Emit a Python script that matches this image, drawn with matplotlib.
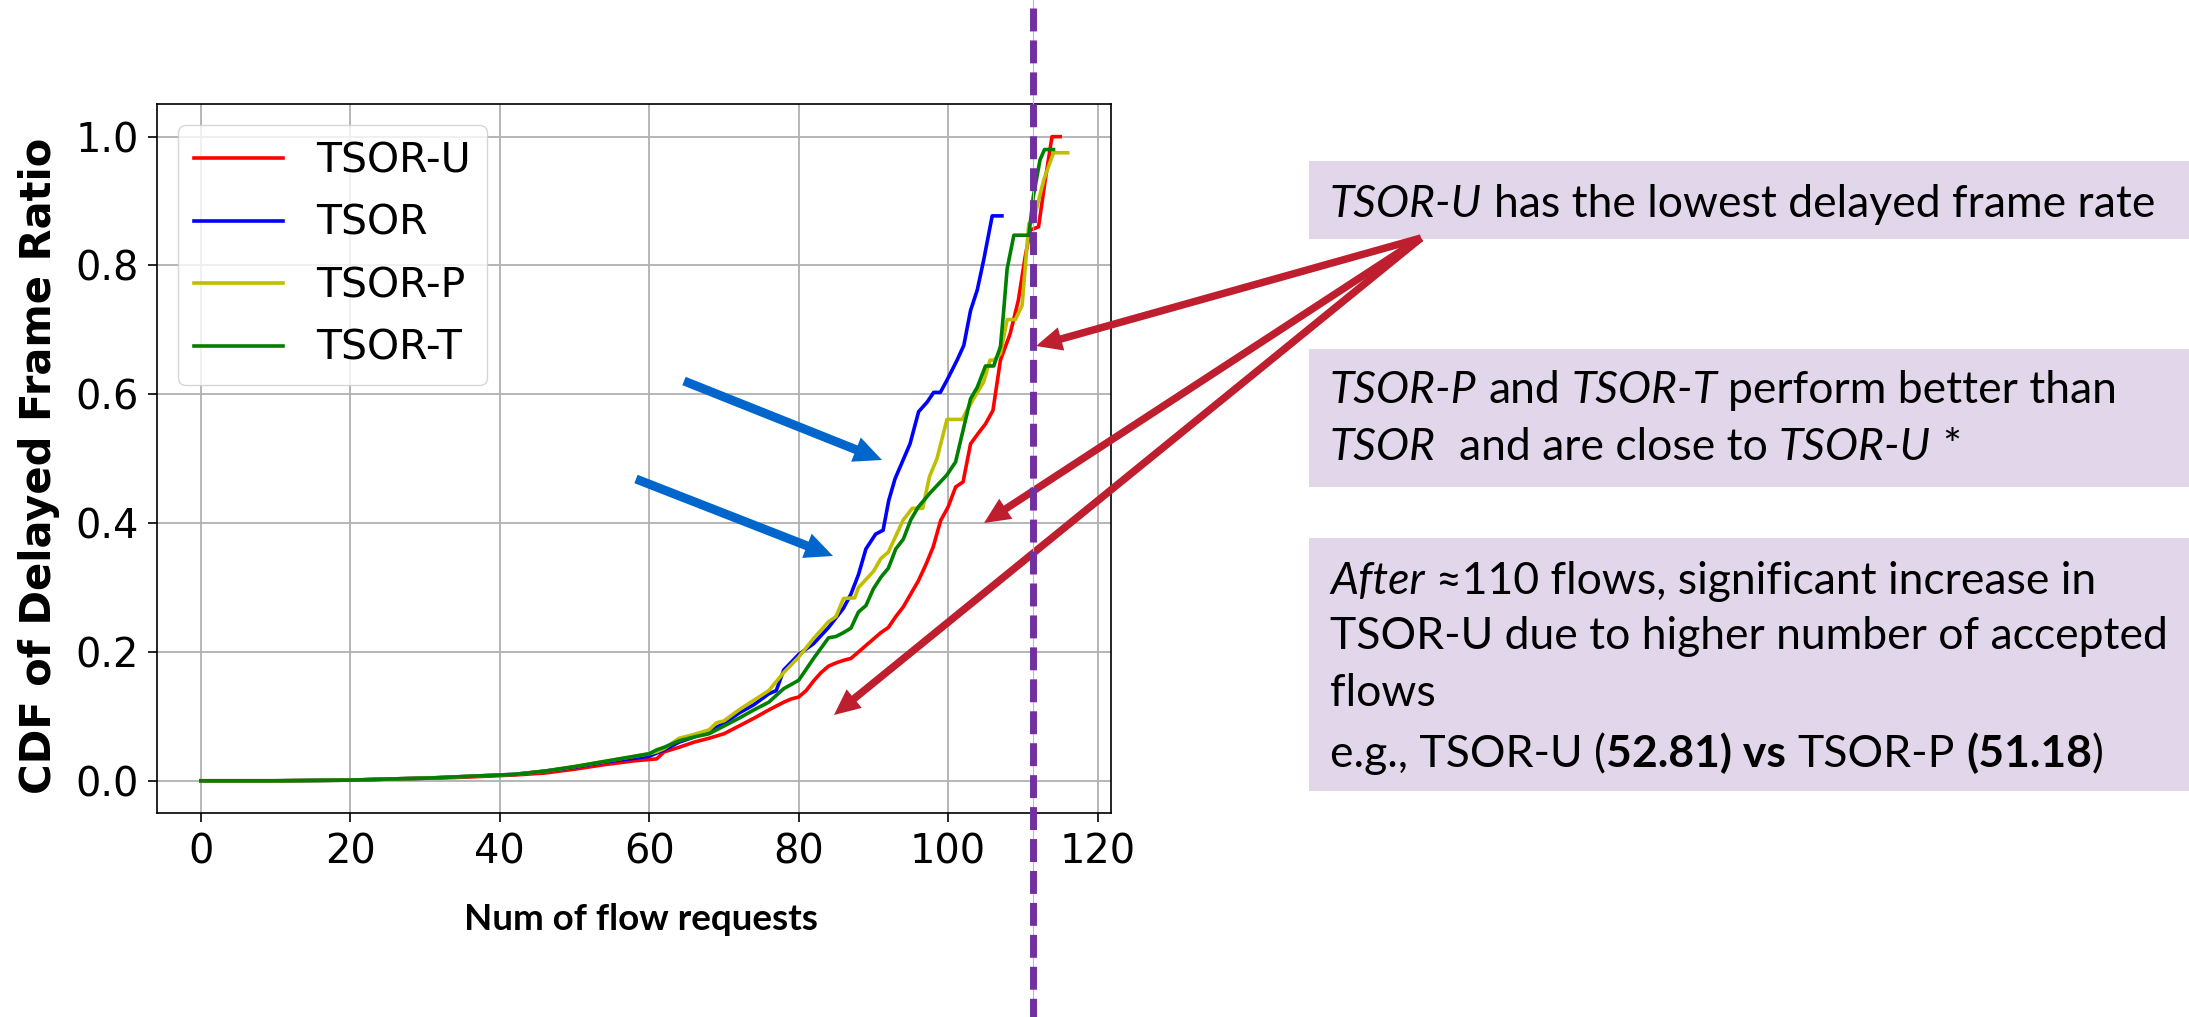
import matplotlib
matplotlib.use("Agg")
import matplotlib.pyplot as plt
from matplotlib.lines import Line2D
from matplotlib.patches import FancyArrow, Rectangle
from matplotlib.transforms import Affine2D

# CONSTANTS
W, H, DPI = 2189, 1017, 100
FONT = ["Lato", "DejaVu Sans"]
BOX_COLOUR = "#E2D6EA"
RED_ARROW = "#BE1E2D"
BLUE_ARROW = "#0066CC"
PURPLE = "#7030A0"

# DATA
U_X = [0, 10, 20, 23, 26, 30, 34, 38, 42, 46, 50, 54, 58, 60, 61, 62, 64, 66, 68, 70,
       72, 74, 76, 78, 79, 80, 81, 82, 83, 84, 85, 86, 87, 88, 89, 90, 91, 92, 93, 94,
       95, 96, 97, 98, 99, 100, 101, 102, 103, 104, 105, 106, 107, 108.3, 109.4, 110.3,
       111, 112.1, 113, 113.9, 115]
U_Y = [0, 0, 0.001, 0.002, 0.003, 0.004, 0.005, 0.007, 0.009, 0.012, 0.018, 0.025, 0.031,
       0.033, 0.034, 0.045, 0.052, 0.06, 0.066, 0.073, 0.085, 0.097, 0.11, 0.122, 0.127,
       0.13, 0.14, 0.155, 0.168, 0.178, 0.183, 0.187, 0.19, 0.2, 0.21, 0.22, 0.23, 0.238,
       0.255, 0.27, 0.29, 0.31, 0.335, 0.363, 0.404, 0.425, 0.456, 0.464, 0.523, 0.539,
       0.554, 0.575, 0.653, 0.694, 0.746, 0.813, 0.855, 0.86, 0.933, 1.0, 1.0]

B_X = [0, 10, 20, 23, 26, 30, 34, 38, 42, 46, 50, 54, 58, 60, 62, 64, 66, 68, 70, 72,
       74, 76, 77, 78, 80, 82, 84, 86, 87, 88, 89, 90.3, 91.3, 92.05, 92.9, 94.9, 96.05,
       97.2, 98.07, 98.96, 99.85, 101.2, 102.1, 103, 103.9, 104.75, 105.9, 107.2]
B_Y = [0, 0, 0.001, 0.002, 0.003, 0.004, 0.006, 0.008, 0.010, 0.015, 0.021, 0.029, 0.035,
       0.038, 0.048, 0.06, 0.068, 0.077, 0.089, 0.105, 0.118, 0.135, 0.14, 0.172, 0.196,
       0.213, 0.238, 0.268, 0.29, 0.32, 0.36, 0.383, 0.389, 0.435, 0.469, 0.523, 0.573,
       0.588, 0.603, 0.603, 0.622, 0.653, 0.676, 0.73, 0.762, 0.808, 0.877, 0.877]

P_X = [0, 10, 20, 23, 26, 30, 34, 38, 42, 46, 50, 54, 58, 60, 61, 62, 64, 66, 68, 69,
       70, 72, 74, 76, 78, 80, 82, 84, 85, 86, 87.5, 88, 90, 91, 92, 93, 94, 95.2, 96.6,
       97.5, 98.5, 99.85, 101.9, 102.5, 103.4, 104.75, 105.6, 106.1, 107, 107.9, 109,
       109.9, 110.8, 111.4, 112.8, 114.1, 116]
P_Y = [0, 0, 0.001, 0.002, 0.003, 0.004, 0.006, 0.008, 0.010, 0.015, 0.022, 0.030, 0.038,
       0.042, 0.045, 0.05, 0.066, 0.072, 0.079, 0.09, 0.093, 0.11, 0.125, 0.14, 0.168,
       0.192, 0.221, 0.247, 0.255, 0.283, 0.284, 0.3, 0.325, 0.345, 0.355, 0.38, 0.405,
       0.423, 0.423, 0.472, 0.5, 0.561, 0.561, 0.575, 0.593, 0.619, 0.653, 0.653, 0.663,
       0.716, 0.716, 0.738, 0.865, 0.868, 0.933, 0.975, 0.975]

T_X = [0, 10, 20, 23, 26, 30, 34, 38, 42, 46, 50, 54, 58, 60, 61, 62, 64, 66, 68, 70,
       72, 74, 76, 78, 80, 82, 84, 85, 86, 87, 88, 89, 90, 91, 92, 93, 94, 95, 96, 97.6,
       99.85, 101, 102.1, 103, 103.9, 105, 106.1, 107, 107.4, 107.9, 108.8, 110.8, 111.4,
       112.3, 112.9, 114.1]
T_Y = [0, 0, 0.001, 0.002, 0.003, 0.004, 0.006, 0.008, 0.010, 0.015, 0.022, 0.030, 0.038,
       0.042, 0.048, 0.052, 0.062, 0.068, 0.073, 0.085, 0.097, 0.11, 0.122, 0.143, 0.156,
       0.19, 0.222, 0.224, 0.23, 0.237, 0.262, 0.272, 0.298, 0.316, 0.33, 0.36, 0.375,
       0.405, 0.425, 0.447, 0.475, 0.495, 0.549, 0.593, 0.611, 0.644, 0.644, 0.674, 0.725,
       0.795, 0.847, 0.847, 0.907, 0.964, 0.98, 0.98]

SERIES = [
    ("TSOR-U", U_X, U_Y, "r"),
    ("TSOR", B_X, B_Y, "b"),
    ("TSOR-P", P_X, P_Y, "y"),
    ("TSOR-T", T_X, T_Y, "g"),
]

# Callout texts: (segment, style) with "n" normal, "i" italic, "b" bold
BOX1 = [[("TSOR-U", "i"), (" has the lowest delayed frame rate", "n")]]
BOX2 = [[("TSOR-P", "i"), (" and ", "n"), ("TSOR-T", "i"), (" perform better than", "n")],
        [("TSOR", "i"), ("  and are close to ", "n"), ("TSOR-U", "i"), (" *", "n")]]
BOX3 = [[("After", "i"), (" \u2248110 flows, significant increase in", "n")],
        [("TSOR-U due to higher number of accepted", "n")],
        [("flows", "n")],
        [("e.g., TSOR-U (", "n"), ("52.81) vs", "b"), (" TSOR-P ", "n"), ("(51.18", "b"), (")", "n")]]


# FUNCTIONS
def style_kw(style, size):
    kw = dict(fontsize=size, family=FONT, va="baseline", ha="left", transform=IMG)
    if style == "i":
        kw["style"] = "italic"
    elif style == "b":
        kw["weight"] = "bold"
    return kw


def text_width(s, kw):
    t = fig.text(0, 0, s, **kw)
    w = t.get_window_extent(RENDERER).width
    t.remove()
    return w


def rich_line(x, y, parts, size):
    for s, style in parts:
        kw = style_kw(style, size)
        space = text_width("x x", kw) - text_width("xx", kw)
        core = s.strip(" ")
        lead = len(s) - len(s.lstrip(" "))
        trail = len(s) - len(s.rstrip(" "))
        x += lead * space
        if core:
            t = fig.text(x, y, core, **kw)
            x += t.get_window_extent(RENDERER).width
        x += trail * space


def callout(top, bottom, lines, baselines, size=32):
    fig.add_artist(Rectangle((1309, top), W - 1309, bottom - top, transform=IMG,
                             facecolor=BOX_COLOUR, edgecolor="none", zorder=1))
    for parts, yb in zip(lines, baselines):
        rich_line(1330, yb, parts, size)


def arrow(x0, y0, x1, y1, colour, width, head_w, head_l):
    fig.add_artist(FancyArrow(x0, y0, x1 - x0, y1 - y0, width=width, head_width=head_w,
                              head_length=head_l, length_includes_head=True,
                              transform=IMG, color=colour, lw=0, zorder=5))


# MAIN CODE
fig = plt.figure(figsize=(W / DPI, H / DPI), dpi=DPI, facecolor="white")
RENDERER = fig.canvas.get_renderer()
# image pixel coordinates (origin top-left)
IMG = Affine2D().scale(1, -1).translate(0, H)

ax = fig.add_axes([0.07195, 0.2006, 0.4356, 0.6967])
for name, xs, ys, c in SERIES:
    ax.plot(xs, ys, color=c, lw=2.6, label=name)

ax.grid(True, color="#b0b0b0", lw=1.3)
ax.set_axisbelow(True)
ax.tick_params(labelsize=28.7, length=6.7, width=1.2, pad=7)
for sp in ax.spines.values():
    sp.set_linewidth(1.2)

ax.set_ylabel("CDF of Delayed Frame Ratio", fontsize=30, fontweight="bold")
ax.yaxis.set_label_coords(-0.102, 0.49)
ax.set_xlabel("Num of flow requests", fontsize=26.5, fontweight="bold", family=FONT,
              va="baseline")
ax.xaxis.set_label_coords(0.507, -0.165)

ax.legend(loc="upper left", fontsize=29.5, handlelength=2.17, labelspacing=0.55)

# annotation arrows
arrow(684, 381, 882, 460, BLUE_ARROW, 9, 26, 28)
arrow(636, 479, 833, 556, BLUE_ARROW, 9, 26, 28)
for tip in [(1036, 346), (984, 523), (834, 715)]:
    arrow(1421, 238, tip[0], tip[1], RED_ARROW, 7.5, 24, 26)

# vertical marker line
fig.add_artist(Line2D([1033, 1033], [0, H], transform=IMG, color="#9DC3E6", lw=0.8, zorder=6))
fig.add_artist(Line2D([1033, 1033], [8, H + 20], transform=IMG, color=PURPLE, lw=5.0,
                      dashes=(3.3, 1.3), dash_capstyle="butt", zorder=7))

# callout boxes
callout(161, 239, BOX1, [217])
callout(349, 487, BOX2, [403, 460])
callout(538, 791, BOX3, [594, 649, 706, 767])

fig.savefig("out.png", dpi=DPI, facecolor="white")
plt.close()
